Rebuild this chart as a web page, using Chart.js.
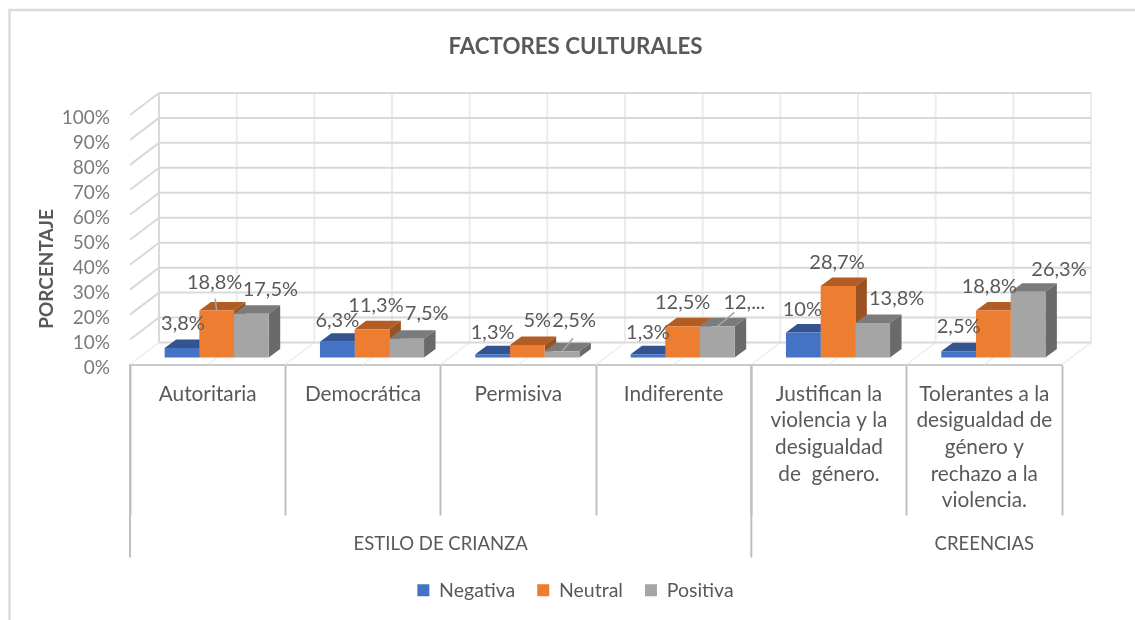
<!DOCTYPE html>
<html><head><meta charset="utf-8">
<style>html,body{margin:0;padding:0;background:#fff}canvas{display:block}</style>
<script src="https://cdn.jsdelivr.net/npm/chart.js@4"></script>
</head><body><canvas id="c" width="1135" height="620"></canvas>
<script>
const categories = [
  ["Autoritaria"],["Democrática"],["Permisiva"],["Indiferente"],
  ["Justifican la","violencia y la","desigualdad","de  género."],
  ["Tolerantes a la","desigualdad de","género y","rechazo a la","violencia."]
];
const seriesNames = ["Negativa","Neutral","Positiva"];
const negativa = [3.8,6.3,1.3,1.3,10,2.5];
const neutral  = [18.8,11.3,5,12.5,28.7,18.8];
const positiva = [17.5,7.5,2.5,12.5,13.8,26.3];
const negativaLabels = ["3,8%","6,3%","1,3%","1,3%","10%","2,5%"];
const neutralLabels  = ["18,8%","11,3%","5%","12,5%","28,7%","18,8%"];
const positivaLabels = ["17,5%","7,5%","2,5%","12,...","13,8%","26,3%"];
const groupNames = ["ESTILO DE CRIANZA","CREENCIAS"];
const groupCenters = [1.5,5];
const groupEdges = [-0.5,3.5];
const chartTitle = "FACTORES CULTURALES";
const yTitle = "PORCENTAJE";

// styles
const frontColors = ["#4472C4","#ED7D31","#A5A5A5"];
const topColors   = ["#325592","#B15D24","#7B7B7B"];
const sideColors  = ["#2C4B82","#9C5220","#6A6A6A"];
const labelShift = [
  [[1,-24.5],[0,-21],[0,-22],[0,-22],[-1,-23],[0,-25]],
  [[-2,-28],[4,-24],[10,-24.5],[0,-24],[-1,-23.5],[-4,-24]],
  [[19,-24],[20,-25],[12,-31],[27,-24],[24,-24.6],[31,-22.5]]
];
const leaders = [[1,0,0.5,16],[2,2,-1,18],[2,3,-10,10]];
const PLANE = {x:9,y:-7}, WALL = {x:29,y:-22}, DEPTH = {x:11.5,y:-8.5};
const FONT = 'Lato';

function line(ctx,x1,y1,x2,y2,color,w){
  ctx.strokeStyle=color;ctx.lineWidth=w;ctx.beginPath();ctx.moveTo(x1,y1);ctx.lineTo(x2,y2);ctx.stroke();
}
function poly(ctx,pts,color){
  ctx.fillStyle=color;ctx.beginPath();pts.forEach((p,i)=>i?ctx.lineTo(p[0],p[1]):ctx.moveTo(p[0],p[1]));ctx.closePath();ctx.fill();
}
const allLabels=[negativaLabels,neutralLabels,positivaLabels];

const chart3d = {
  id:'chart3d',
  beforeDraw(chart){
    const ctx=chart.ctx;
    ctx.save();
    ctx.fillStyle='#fff';ctx.fillRect(0,0,chart.width,chart.height);
    ctx.strokeStyle='#dcdcdc';ctx.lineWidth=2.5;
    ctx.beginPath();ctx.moveTo(9.5,620);ctx.lineTo(9.5,10);ctx.lineTo(1135,10);ctx.stroke();
    ctx.restore();
  },
  beforeDatasetsDraw(chart){
    const ctx=chart.ctx,{x,y}=chart.scales;
    ctx.save();
    const top=y.getPixelForValue(100),bot=y.getPixelForValue(0);
    for(let k=0;k<=categories.length*2;k++){
      const px=x.getPixelForValue(-0.5+k/2);
      const c=(k===0)?'#d9d9d9':'#ececec';
      line(ctx,px+WALL.x,top+WALL.y,px+WALL.x,bot+WALL.y,c,2);
      line(ctx,px,bot,px+WALL.x,bot+WALL.y,'#ececec',1.5);
    }
    y.ticks.forEach(t=>{
      const py=y.getPixelForValue(t.value);
      const xl=x.getPixelForValue(-0.5),xr=x.getPixelForValue(categories.length-0.5);
      line(ctx,xl+WALL.x,py+WALL.y,xr+WALL.x,py+WALL.y,'#d9d9d9',2);
      if(t.value>0) line(ctx,xl,py,xl+WALL.x,py+WALL.y,'#d9d9d9',2);
    });
    groupEdges.forEach(e=>{
      const px=x.getPixelForValue(e);
      line(ctx,px,bot,px,bot+193,'#bfbfbf',2);
    });
    ctx.font='18.5px '+FONT;ctx.fillStyle='#595959';ctx.textAlign='center';ctx.textBaseline='middle';
    groupNames.forEach((g,i)=>ctx.fillText(g,x.getPixelForValue(groupCenters[i]),bot+179.5));
    ctx.save();
    ctx.translate(47,269);ctx.rotate(-Math.PI/2);
    ctx.font='bold 19px '+FONT;ctx.fillText(yTitle,0,0);
    ctx.restore();
    ctx.restore();
    ctx.save();
    ctx.translate(PLANE.x,PLANE.y);
    // top and side faces, painted left to right; the library's front faces go over them
    [0,1,2].forEach(d=>{
      chart.getDatasetMeta(d).data.forEach(b=>{
        const l=b.x-b.width/2,r=b.x+b.width/2,t=b.y,ba=b.base,dx=DEPTH.x,dy=DEPTH.y;
        poly(ctx,[[l,t],[r,t],[r+dx,t+dy],[l+dx,t+dy]],topColors[d]);
        poly(ctx,[[r,t],[r+dx,t+dy],[r+dx,ba+dy],[r,ba]],sideColors[d]);
      });
    });
  },
  afterDatasetsDraw(chart){
    const ctx=chart.ctx;
    leaders.forEach(([d,i,ax,ay])=>{
      const b=chart.getDatasetMeta(d).data[i],s=labelShift[d][i];
      line(ctx,b.x+s[0]+ax,b.y+s[1]+ay,b.x,b.y,'#a6a6a6',1.5);
    });
    ctx.font='20px '+FONT;ctx.fillStyle='#595959';ctx.textAlign='center';ctx.textBaseline='middle';
    allLabels.forEach((labs,d)=>{
      chart.getDatasetMeta(d).data.forEach((b,i)=>{
        const s=labelShift[d][i];
        ctx.fillText(labs[i],b.x+s[0],b.y+s[1]);
      });
    });
    ctx.restore();
  }
};

new Chart(document.getElementById('c'),{
  type:'bar',
  plugins:[chart3d],
  data:{
    labels:categories,
    datasets:[negativa,neutral,positiva].map((v,i)=>({
      label:seriesNames[i],data:v,backgroundColor:frontColors[i],borderWidth:0,
      categoryPercentage:0.67,barPercentage:1,clip:false
    }))
  },
  options:{
    responsive:false,animation:false,
    layout:{autoPadding:false,padding:{top:33,left:61,right:45,bottom:10}},
    plugins:{
      tooltip:{enabled:false},
      title:{display:true,text:chartTitle,color:'#595959',font:{family:FONT,size:22.3,weight:'bold'},padding:{top:0,bottom:55.2}},
      legend:{display:true,position:'bottom',
        labels:{color:'#595959',font:{family:FONT,size:19.5},boxWidth:12,boxHeight:12,padding:22}}
    },
    scales:{
      x:{
        type:'category',
        afterFit(s){s.height=194;},
        border:{display:true,color:'#c9c9c9',width:2},
        grid:{display:true,drawOnChartArea:false,drawTicks:true,offset:true,tickLength:151,tickWidth:2,tickColor:'#bfbfbf',color:'#bfbfbf'},
        ticks:{autoSkip:false,maxRotation:0,minRotation:0,color:'#595959',padding:-135,
          font:{family:FONT,size:20.8,lineHeight:1.284}}
      },
      y:{
        min:0,max:100,
        afterFit(s){s.width=69;},
        border:{display:false},
        grid:{display:false,drawTicks:false},
        ticks:{stepSize:10,padding:20,autoSkip:false,color:'#7a7a7a',font:{family:FONT,size:19,lineHeight:'6px'},callback:v=>['',v+'%']}
      },
      yPad:{
        display:true,position:'right',min:0,max:100,
        afterFit(s){s.width=28;},
        border:{display:false},grid:{display:false,drawTicks:false},ticks:{display:false}
      }
    }
  }
});
</script></body></html>
